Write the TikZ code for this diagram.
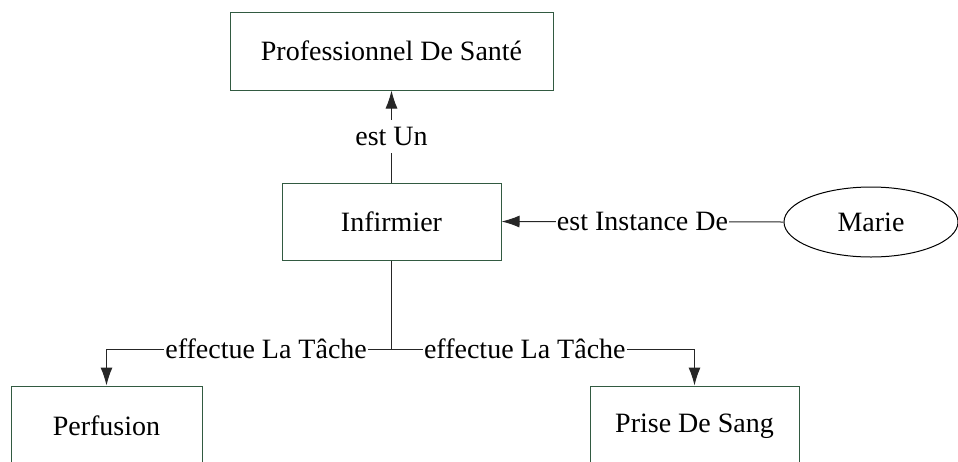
\documentclass[tikz,border=0pt]{standalone}
\usepackage{fontspec}
\setmainfont{Liberation Serif}
\usetikzlibrary{arrows.meta,shapes.geometric}
\definecolor{boxgreen}{RGB}{50,90,65}
\begin{document}
\begin{tikzpicture}[x=0.5pt,y=-0.5pt,font=\fontsize{14}{17}\selectfont,
box/.style={draw=boxgreen,line width=0.5pt,inner sep=0pt},
link/.style={draw=black!85,line width=0.5pt,-{Latex[length=9pt,width=6pt]}},
lbl/.style={fill=white,inner xsep=0.5pt,inner ysep=3.5pt}]
\useasboundingbox (0,0) rectangle (958,461);
\node[box,minimum width=161.5pt,minimum height=39pt](S) at (391.5,51) {Professionnel De Santé};
\node[box,minimum width=109.5pt,minimum height=38.5pt](I) at (391.5,221.5) {Infirmier};
\node[draw,ellipse,line width=0.5pt,inner sep=0pt,minimum width=87pt,minimum height=35pt](M) at (871,222) {Marie};
\node[box,minimum width=95.5pt,minimum height=40pt](P) at (106.5,426) {Perfusion};
\node[box,minimum width=104.5pt,minimum height=40pt](G) at (694.5,426) {Prise De Sang};
\coordinate (K) at (391.5,349);
\draw[link](I.north)--node[lbl]{est Un}(S.south);
\draw[link](M.west)--node[lbl]{est Instance De}(I.east);
\draw[link](I.south)--(K)-|node[lbl,pos=0.22]{effectue La Tâche}(P.north);
\draw[link](I.south)--(K)-|node[lbl,pos=0.22]{effectue La Tâche}(G.north);
\end{tikzpicture}
\end{document}
